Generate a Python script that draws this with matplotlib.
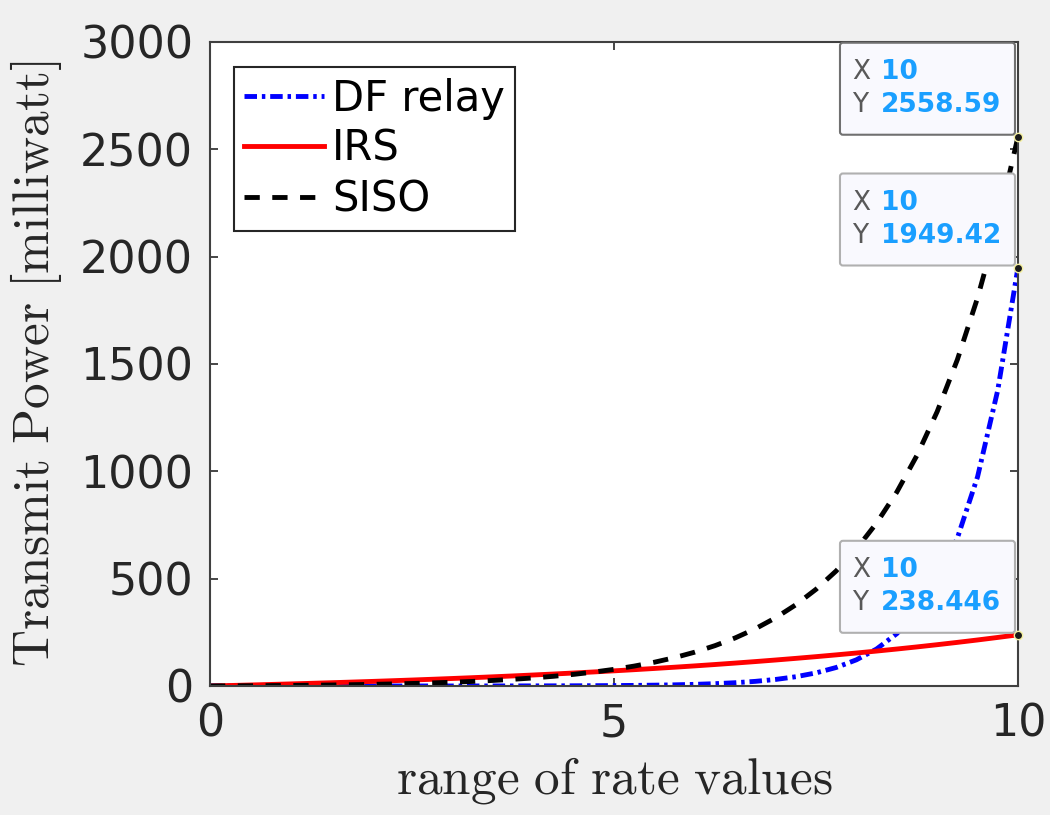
import numpy as np
import matplotlib
matplotlib.use("Agg")
import matplotlib.pyplot as plt
from matplotlib.patches import FancyBboxPatch
from matplotlib.transforms import IdentityTransform

plt.rcParams['font.family'] = 'DejaVu Sans'
plt.rcParams['mathtext.fontset'] = 'cm'
plt.rcParams['lines.scale_dashes'] = False

# rate grid (0 to 10 in steps of 0.25)
rate = np.linspace(0, 10, 41)

# transmit power in milliwatt
p_df = [0.000, 0.001, 0.002, 0.003, 0.006, 0.009, 0.013, 0.019, 0.028, 0.040,
        0.058, 0.082, 0.117, 0.166, 0.236, 0.335, 0.474, 0.671, 0.950, 1.344,
        1.902, 2.69, 3.81, 5.38, 7.61, 10.77, 15.23, 21.54, 30.46, 43.07,
        60.92, 86.15, 121.84, 172.30, 243.67, 344.61, 487.35, 689.22, 974.70,
        1378.4, 1949.42]
p_irs = [0.0, 2.27, 4.63, 7.11, 9.69, 12.38, 15.20, 18.14, 21.21, 24.41,
         27.76, 31.26, 34.91, 38.72, 42.70, 46.86, 51.20, 55.73, 60.47, 65.41,
         70.57, 75.96, 81.60, 87.47, 93.62, 100.03, 106.73, 113.72, 121.02,
         128.64, 136.61, 144.92, 153.60, 162.67, 172.14, 182.02, 192.35,
         203.13, 214.39, 226.15, 238.446]
p_siso = [0.0, 0.47, 1.04, 1.71, 2.50, 3.45, 4.57, 5.91, 7.50, 9.40,
          11.65, 14.32, 17.5, 21.29, 25.79, 31.15, 37.5, 45.1, 54.1, 64.8,
          77.5, 92.7, 110.7, 132.1, 157.6, 187.9, 223.9, 266.7, 317.6, 378.2,
          450.2, 535.9, 637.8, 758.9, 903.0, 1074.3, 1278.0, 1520.3, 1808.4,
          2151.0, 2558.59]

tips = [2558.59, 1949.42, 238.446]
tip_text = ['2558.59', '1949.42', '238.446']

fig = plt.figure(figsize=(10.5, 8.15), dpi=100, facecolor='#f0f0f0')
ax = fig.add_axes([0.2, 0.1583, 0.7695, 0.7902])

ax.plot(rate, p_df, color='#0000ff', lw=3.5, dashes=(9, 3.5, 2.5, 3.5),
        label='DF relay')
ax.plot(rate, p_irs, color='#ff0000', lw=3.5, label='IRS')
ax.plot(rate, p_siso, color='#000000', lw=3.5, dashes=(11, 9),
        label='SISO')

ax.set_xlim(0, 10)
ax.set_ylim(0, 3000)
ax.set_xticks([0, 5, 10])
ax.set_yticks(np.arange(0, 3001, 500))
ax.tick_params(direction='in', length=6, width=1.2, colors='#262626',
               labelsize=32, top=True, right=True, pad=12)
for s in ax.spines.values():
    s.set_color('#404040')
    s.set_linewidth(1.5)

ax.set_xlabel(r'$\mathrm{range\ of\ rate\ values}$', fontsize=37,
              color='#262626', labelpad=7)
ax.set_ylabel(r'$\mathrm{Transmit\ Power\ [milliwatt]}$', fontsize=37,
              color='#262626', labelpad=12)

leg = ax.legend(loc='upper left', bbox_to_anchor=(0.0297, 0.961),
                borderaxespad=0, fontsize=30, handlelength=1.9,
                handletextpad=0.2, labelspacing=0.2, borderpad=0.25,
                fancybox=False, framealpha=1)
leg.get_frame().set_edgecolor('#262626')
leg.get_frame().set_linewidth(1.5)

# data tips at the last point of each curve
ax.plot([10] * 3, tips, 'o', ms=6, mfc='#1a1a1a', mec='#f5f0a0', mew=1,
        clip_on=False, zorder=6)
edge = ['#707070', '#b0b0b0', '#b0b0b0']
for yv, txt, ec in zip(tips, tip_text, edge):
    px, py = ax.transData.transform((10, yv))
    left, bottom = px - 178, py + 2
    box = FancyBboxPatch((left, bottom), 175, 92,
                         boxstyle='round,pad=0,rounding_size=3',
                         transform=IdentityTransform(), fc='#f9f9fe',
                         ec=ec, lw=1.5, clip_on=False, zorder=7)
    ax.add_patch(box)
    top = bottom + 92
    for dy, lab, val in [(29, 'X', '10'), (62, 'Y', txt)]:
        ax.text(left + 12, top - dy, lab, transform=IdentityTransform(),
                fontsize=19, color='#595959', va='center', ha='left',
                zorder=8)
        ax.text(left + 41, top - dy, val, transform=IdentityTransform(),
                fontsize=19, color='#1a9fff', fontweight='bold',
                va='center', ha='left', zorder=8)

fig.savefig('out.png', dpi=100, facecolor=fig.get_facecolor())
